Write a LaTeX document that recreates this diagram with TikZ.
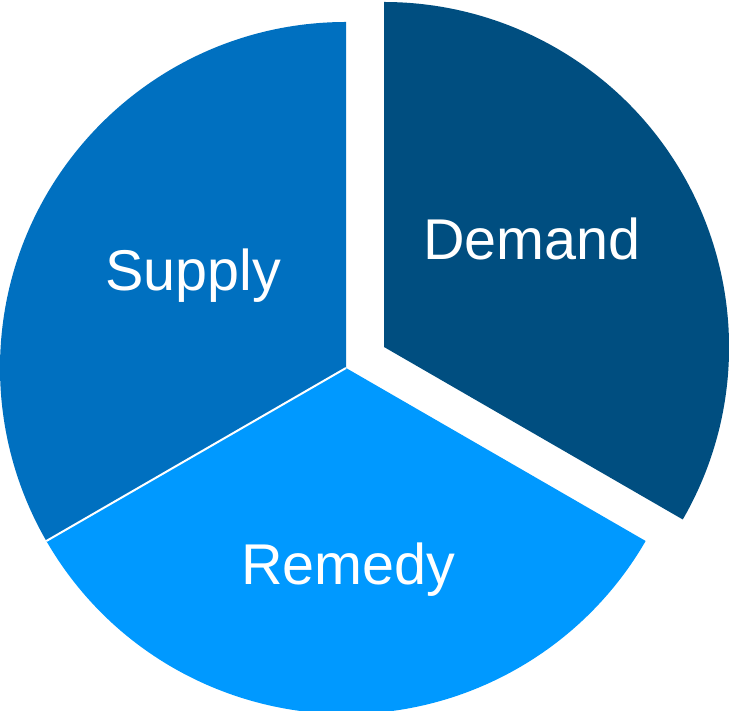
\documentclass[tikz,border=0pt]{standalone}
\usepackage{fontspec}
\setmainfont{Liberation Sans}
\definecolor{supplyblue}{HTML}{0070C0}
\definecolor{demandblue}{HTML}{004E80}
\definecolor{remedyblue}{HTML}{0099FF}
\begin{document}
\begin{tikzpicture}[x=1pt,y=1pt,
  lbl/.style={text=white,font=\fontsize{57.5}{60}\selectfont,anchor=base,inner sep=0pt}]
\useasboundingbox (0,0) rectangle (729,711);
\coordinate (C) at (346,343);
\coordinate (D) at (384,364);
\fill[supplyblue] (C) -- ++(90:346) arc (90:210:346) -- cycle;
\fill[remedyblue] (C) -- ++(210:346) arc (210:330:346) -- cycle;
\draw[white,line width=2pt] (C) -- ++(210:346);
\fill[demandblue] (D) -- ++(-30:345) arc (-30:90:345) -- cycle;
\node[lbl] (supply) at (193.5,420) {Supply};
\node[lbl] (demand) at (532,451) {Demand};
\node[lbl] (remedy) at (348.5,126) {Remedy};
\end{tikzpicture}
\end{document}
